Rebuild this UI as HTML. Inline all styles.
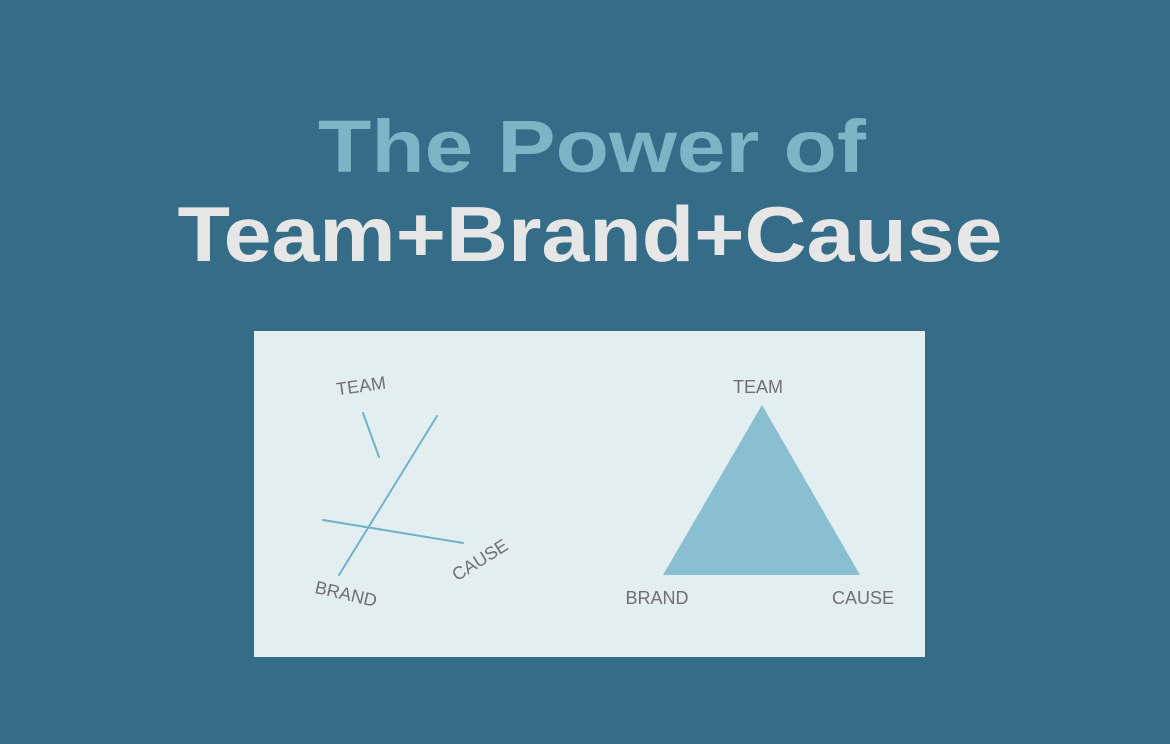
<!DOCTYPE html>
<html><head><style>
html,body{margin:0;padding:0;background:#356d88;}
</style></head><body>
<svg width="1170" height="744" viewBox="0 0 1170 744" xmlns="http://www.w3.org/2000/svg" style="display:block">
<rect width="1170" height="744" fill="#356d88"/>
<text x="592" y="172" text-anchor="middle" font-family="Liberation Sans, sans-serif" font-weight="bold" font-size="74" fill="#7db5c6" textLength="548" lengthAdjust="spacingAndGlyphs">The Power of</text>
<text x="590" y="261" text-anchor="middle" font-family="Liberation Sans, sans-serif" font-weight="bold" font-size="78" fill="#e6e6e6" textLength="825" lengthAdjust="spacingAndGlyphs">Team+Brand+Cause</text>
<rect x="254" y="331" width="671" height="326" fill="#e2eef0"/>
<g stroke="#6fb3cb" stroke-width="2" stroke-linecap="round">
<line x1="363" y1="413" x2="379" y2="457"/>
<line x1="437" y1="416" x2="339" y2="575"/>
<line x1="323" y1="520" x2="463" y2="543"/>
</g>
<polygon points="762,405 663,575 860,575" fill="#89bfd0"/>
<g font-family="Liberation Sans, sans-serif" font-size="18" fill="#707074">
<text x="361" y="392" text-anchor="middle" transform="rotate(-8 361 386)">TEAM</text>
<text x="346" y="600" text-anchor="middle" transform="rotate(13 346 594)">BRAND</text>
<text x="480" y="566" text-anchor="middle" transform="rotate(-32 480 560)">CAUSE</text>
<text x="758" y="393" text-anchor="middle">TEAM</text>
<text x="657" y="604" text-anchor="middle">BRAND</text>
<text x="863" y="604" text-anchor="middle">CAUSE</text>
</g>
</svg>
</body></html>
